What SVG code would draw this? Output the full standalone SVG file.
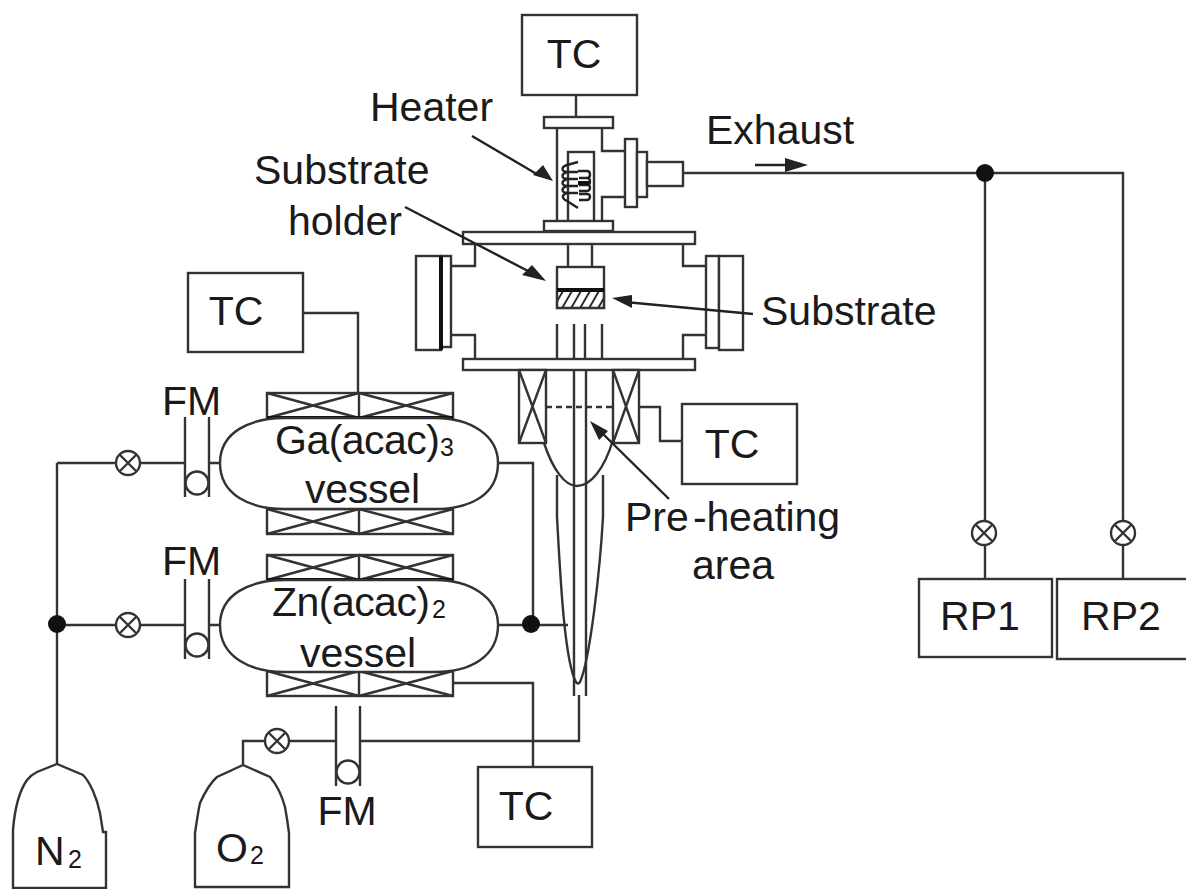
<svg xmlns="http://www.w3.org/2000/svg" width="1186" height="889" viewBox="0 0 1186 889">
<style>
text{font-family:"Liberation Sans",Arial,sans-serif;font-size:41px;fill:#1a1a1a}
.s{font-size:25px}
.l{fill:none;stroke:#333;stroke-width:2.4}
.b{fill:#fff;stroke:#333;stroke-width:2.4}
.a{fill:none;stroke:#222;stroke-width:2.4}
.t{fill:none;stroke:#111;stroke-width:4}
.h{fill:#222}
.m{text-anchor:middle}
</style>
<defs>
<g id="valve"><circle r="12" class="b"/><path d="M-8-8L8 8M-8 8L8-8" class="l"/></g>
<g id="coil"><rect x="-93" y="-12.500" width="186" height="25" class="b"/><path d="M-1-12.500V12.500M-93-12.500L-1 12.500M-93 12.500L-1-12.500M93-12.500L-1 12.500M93 12.500L-1-12.500" class="l"/></g>
<g id="fm"><path d="M-12-46V34M12-46V34" class="l"/><circle cy="20" r="11.500" class="b"/></g>
<pattern id="hatch" width="9" height="18" patternUnits="userSpaceOnUse" patternTransform="skewX(-30)"><path d="M2 0V18" stroke="#222" stroke-width="2.200"/></pattern>
</defs>
<rect width="1186" height="889" fill="#fff"/>
<g id="connectors">
<path class="l" d="M576 95V117M683 173H1123V579M985 173V521M985 544V579M303 313H358V393M57 463V764M57 463H117M140 463H185M209 463H220M57 625H117M140 625H185M209 625H220M498 463H533V625M498 625H568M639 407H660V441H682M453 683H533V767M243 764V741H266M289 741H336M360 741H579V695"/>
<circle cx="985" cy="173" r="9" fill="#111"/><circle cx="57" cy="624" r="9" fill="#111"/><circle cx="531" cy="624" r="9" fill="#111"/>
</g>
<g id="reactor">
<rect class="b" x="544" y="117" width="69" height="11"/>
<path class="l" d="M557 128V221M602 128V151H625M625 197H602V221"/>
<rect class="b" x="625" y="139" width="12" height="68"/><rect class="b" x="637" y="152" width="10" height="45"/><rect class="b" x="647" y="162" width="36" height="24"/>
<rect class="b" x="568" y="152" width="26" height="71"/>
<path class="t" d="M568 222H593"/>
<path class="a" d="M578 162L567 165C561 167 561 171 567 172C561 174 561 178 567 179C561 181 561 185 567 186C561 188 561 192 567 193C561 195 562 199 567 201L578 208"/>
<path class="a" d="M567 172H578M567 179H578M567 186H578M567 193H578"/>
<path class="a" d="M578 171H587C591 171 591 178 587 178H579M579 178H587C591 178 591 185 587 185H579M579 185H587C591 185 591 190 587 191H579M579 194H587C591 194 591 199 587 200H579"/>
<path class="t" d="M578 183H589"/>
<rect class="b" x="544" y="221" width="69" height="10"/>
<rect class="b" x="463" y="232" width="232" height="12"/>
<path class="l" d="M475 244V266H451M451 335H475V359M683 244V266H706M706 335H683V359"/>
<rect class="b" x="441" y="256" width="10" height="91"/><rect class="b" x="416" y="256" width="25" height="94"/>
<path class="t" d="M441 256V350"/>
<rect class="b" x="706" y="256" width="13" height="92"/><rect class="b" x="719" y="256" width="24" height="94"/>
<path class="l" d="M568 244V267M592 244V267"/>
<rect class="b" x="557" y="267" width="47" height="41"/>
<rect x="557" y="290" width="47" height="18" fill="url(#hatch)" stroke="#333" stroke-width="2.200"/>
<path class="t" d="M557 290H604"/>
<path class="l" d="M557 324V359M574 324V359M585 324V359M602 324V359"/>
<rect class="b" x="463" y="359" width="232" height="11"/>
<rect class="b" x="519" y="370" width="27" height="73"/><path class="l" d="M519 370L546 443M546 370L519 443"/>
<rect class="b" x="613" y="370" width="26" height="73"/><path class="l" d="M613 370L639 443M639 370L613 443"/>
<path class="l" stroke-dasharray="6 4" d="M546 407H613"/>
<path class="l" d="M544 443C553 470 565 486 577 486C590 486 604 470 613 440"/>
<path class="l" d="M557 475V517C560 570 564 660 576 682Q578 685 580 682C590 660 600 570 603 517V475"/>
<path class="l" d="M574 370V696M586 370V696"/>
</g>
<g id="vessel-ga">
<use href="#coil" x="360" y="405.500"/><use href="#coil" x="360" y="521.500"/>
<path class="t" d="M267 418H453"/>
<path class="b" d="M220 463C220 432 250 418 285 418H435C470 418 498 435 498 463C498 495 470 509 435 509H285C250 509 220 495 220 463Z"/>
<use href="#fm" x="197" y="463"/>
<text x="275" y="454" textLength="165">Ga(acac)</text><text class="s" x="440" y="456">3</text>
<text x="305" y="503" textLength="115">vessel</text>
</g>
<g id="vessel-zn">
<use href="#coil" x="360" y="567.500"/><use href="#coil" x="360" y="683.500"/>
<path class="t" d="M267 580H453"/>
<path class="b" d="M220 625C220 594 250 580 285 580H435C470 580 498 597 498 625C498 657 470 672 435 672H285C250 672 220 657 220 625Z"/>
<use href="#fm" x="197" y="625"/>
<text x="272" y="616" textLength="158">Zn(acac)</text><text class="s" x="432" y="618">2</text>
<text x="300" y="667" textLength="116">vessel</text>
</g>
<g id="valves">
<use href="#valve" x="128" y="463"/><use href="#valve" x="128" y="625"/><use href="#valve" x="277" y="741"/><use href="#valve" x="984" y="533"/><use href="#valve" x="1123" y="533"/>
</g>
<g id="fm-o2"><use href="#fm" x="348" y="752"/><text class="m" x="347" y="825">FM</text></g>
<g id="tc-top"><rect class="b" x="522" y="15" width="115" height="80"/><text class="m" x="574" y="68">TC</text></g>
<g id="tc-left"><rect class="b" x="188" y="273" width="115" height="79"/><text class="m" x="236" y="325">TC</text></g>
<g id="tc-right"><rect class="b" x="682" y="404" width="115" height="80"/><text class="m" x="732" y="458">TC</text></g>
<g id="tc-bottom"><rect class="b" x="478" y="767" width="114" height="80"/><text class="m" x="526" y="820">TC</text></g>
<g id="rp1"><rect class="b" x="919" y="579" width="133" height="78"/><text class="m" x="980" y="630">RP1</text></g>
<g id="rp2"><rect class="b" x="1057" y="579" width="132" height="80"/><text class="m" x="1121" y="630">RP2</text></g>
<g id="n2"><path class="b" d="M13 889V830C15 805 20 790 27 780C30 776 33 774 37 772L57 764L83 775C90 782 97 798 100 813L103 832H106V888H13"/><text x="35" y="865">N</text><text class="s" x="68" y="868">2</text></g>
<g id="o2"><path class="b" d="M195 887V833C197 820 198 812 200 803C205 792 210 783 217 777L243 765L270 777C277 785 282 796 285 807C287 818 288 825 289 833V887Z"/><text x="216" y="862">O</text><text class="s" x="250" y="864">2</text></g>
<g id="labels">
<text x="370" y="121">Heater</text>
<text x="254" y="184">Substrate</text>
<text x="288" y="235">holder</text>
<text x="761" y="325">Substrate</text>
<text x="706" y="144">Exhaust</text>
<text x="625" y="531">Pre</text><text x="693" y="531" textLength="147">-heating</text>
<text class="m" x="733" y="579">area</text>
<text x="162" y="415">FM</text>
<text x="162" y="575">FM</text>
<path class="a" d="M472 136L540 176M405 207L530 272M753 314L625 302M669 499L600 431M755 165H790"/>
<path class="h" d="M553 181L533 175L543 165ZM546 281L522 275L532 265ZM612 298L632 295L632 308ZM590 421L608 431L599 440ZM808 165L785 158V172Z"/>
</g>
</svg>
